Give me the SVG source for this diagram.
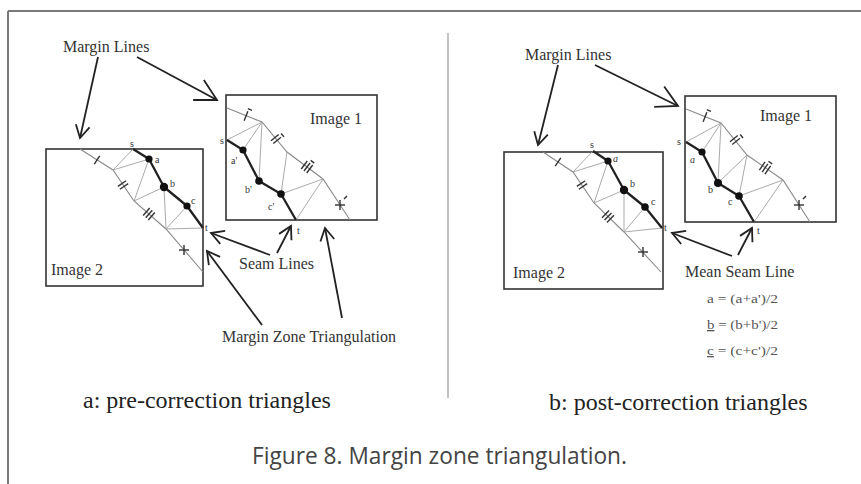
<svg xmlns="http://www.w3.org/2000/svg" width="861" height="484" viewBox="0 0 861 484">
<style>
  .frame{stroke:#7a7a7a;stroke-width:2;fill:none}
  .box{fill:none;stroke:#333;stroke-width:1.6}
  .margin{fill:none;stroke:#8a8a8a;stroke-width:1.1}
  .tri{fill:none;stroke:#a0a0a0;stroke-width:0.9}
  .seam{fill:none;stroke:#222;stroke-width:2.3;stroke-linejoin:round}
  .dot{fill:#111}
  .mk{stroke:#333;stroke-width:1.4;fill:none}
  .arr{stroke:#222;stroke-width:1.8;fill:none}
  .lbl{font-family:"Liberation Serif","Times New Roman",serif;font-size:16px;fill:#333}
  .pt{font-family:"Liberation Serif","Times New Roman",serif;font-size:10px;fill:#333}
  .panel{font-family:"Liberation Serif","Times New Roman",serif;font-size:24px;fill:#222}
  .frm{font-family:"Liberation Serif","Times New Roman",serif;font-size:13px;fill:#555}
  .cap{font-family:"Open Sans","Liberation Sans",Arial,sans-serif;font-size:23px;fill:#444}
</style>
<defs>
  <marker id="ah" markerUnits="userSpaceOnUse" markerWidth="20" markerHeight="20" viewBox="-16 -10 20 20" refX="0" refY="0" orient="auto">
    <path d="M-12.5,-7 L0,0 L-12.5,7" fill="none" stroke="#222" stroke-width="1.8"/>
  </marker>
  <marker id="ahL" markerUnits="userSpaceOnUse" markerWidth="30" markerHeight="30" viewBox="-26 -15 30 30" refX="0" refY="0" orient="auto">
    <path d="M-21,-11.3 L0,0 L-21,11.3" fill="none" stroke="#222" stroke-width="1.8"/>
  </marker>
  <g id="t1"><line class="mk" x1="0" y1="-5" x2="0" y2="5"/></g>
  <g id="t2"><line class="mk" x1="-1.8" y1="-5" x2="-1.8" y2="5"/><line class="mk" x1="1.8" y1="-5" x2="1.8" y2="5"/></g>
  <g id="t3"><line class="mk" x1="-3.4" y1="-5" x2="-3.4" y2="5"/><line class="mk" x1="0" y1="-5" x2="0" y2="5"/><line class="mk" x1="3.4" y1="-5" x2="3.4" y2="5"/></g>
  <g id="plus"><line class="mk" x1="-5" y1="0" x2="5" y2="0"/><line class="mk" x1="0" y1="-5" x2="0" y2="5"/></g>
  <g id="dash"><line class="mk" x1="-1" y1="-7.5" x2="3.5" y2="-7.5"/></g>
</defs>

<!-- outer frame (top and left edges only) -->
<line class="frame" x1="8" y1="11" x2="861" y2="11"/>
<line class="frame" x1="8" y1="11" x2="8" y2="484"/>
<!-- divider -->
<line x1="448" y1="33" x2="448" y2="398" stroke="#999" stroke-width="1.2"/>

<!-- ===== Panel a ===== -->
<g id="a-image2">
  <rect class="box" x="46" y="149" width="157" height="137"/>
  <polyline class="margin" points="80,149 113,170 134,201 166,229 203,272"/>
  <path class="tri" d="M133,149 L113,170 L149,159 L134,201 L164,187 L166,229 L187,206 M166,229 L203,228"/>
  <polyline class="seam" points="133,149 149,159 164,187 187,206 203,228"/>
  <circle class="dot" cx="149" cy="159" r="3.6"/>
  <circle class="dot" cx="164" cy="187" r="4.2"/>
  <circle class="dot" cx="187" cy="206" r="3.6"/>
  <use href="#t1" transform="translate(97,160) rotate(32.5)"/>
  <use href="#t2" transform="translate(123,185) rotate(55.9)"/>
  <use href="#t3" transform="translate(149,214) rotate(41.2)"/>
  <use href="#plus" transform="translate(184,250)"/>
  <text class="pt" x="130" y="147">s</text>
  <text class="pt" x="155" y="163">a</text>
  <text class="pt" x="170" y="187">b</text>
  <text class="pt" x="191" y="204">c</text>
  <text class="pt" x="205" y="231">t</text>
  <text class="lbl" x="51" y="275">Image 2</text>
</g>

<g id="a-image1">
  <rect class="box" x="226" y="95" width="151" height="125"/>
  <polyline class="margin" points="227,108 262,122 287,152 323,179 350,220"/>
  <path class="tri" d="M227,140 L262,122 L243,150 M262,122 L259,181 M287,152 L281,194 L323,179 L296,220"/>
  <polyline class="seam" points="227,140 243,150 259,181 281,194 296,220"/>
  <circle class="dot" cx="243" cy="150" r="3.6"/>
  <circle class="dot" cx="259" cy="181" r="3.8"/>
  <circle class="dot" cx="281" cy="194" r="3.8"/>
  <g transform="translate(246,116) rotate(21.8)"><use href="#t1"/><use href="#dash"/></g>
  <g transform="translate(276,139) rotate(50.2)"><use href="#t2"/><use href="#dash"/></g>
  <g transform="translate(307,167) rotate(36.9)"><use href="#t3"/><use href="#dash"/></g>
  <g transform="translate(340,205)"><use href="#plus"/><line class="mk" x1="4" y1="-6" x2="7" y2="-9"/></g>
  <text class="pt" x="220" y="144">s</text>
  <text class="pt" x="231" y="164">a'</text>
  <text class="pt" x="245" y="193">b'</text>
  <text class="pt" x="268" y="210">c'</text>
  <text class="pt" x="297" y="234">t</text>
  <text class="lbl" x="310" y="124">Image 1</text>
</g>

<g id="a-labels">
  <text class="lbl" x="63" y="52">Margin Lines</text>
  <text class="lbl" x="239" y="269">Seam Lines</text>
  <text class="lbl" x="222" y="342">Margin Zone Triangulation</text>
  <text class="panel" x="83" y="408">a: pre-correction triangles</text>
</g>

<!-- ===== Panel b ===== -->
<g id="b-image2">
  <rect class="box" x="504" y="152" width="159" height="137"/>
  <polyline class="margin" points="543,152 573,172 594,203 624,232 661,272"/>
  <path class="tri" d="M593,151 L573,172 L608,161 L594,203 L624,190 L624,232 L645,207 M624,232 L662,228"/>
  <polyline class="seam" points="593,151 608,161 624,190 645,207 662,228"/>
  <circle class="dot" cx="608" cy="161" r="3.6"/>
  <circle class="dot" cx="624" cy="190" r="4.2"/>
  <circle class="dot" cx="645" cy="207" r="3.8"/>
  <use href="#t1" transform="translate(558,162) rotate(33.7)"/>
  <use href="#t2" transform="translate(582,185) rotate(55.9)"/>
  <use href="#t3" transform="translate(608,216.5) rotate(44)"/>
  <use href="#plus" transform="translate(643,252)"/>
  <text class="pt" x="590" y="148">s</text>
  <text class="pt" x="613" y="162" font-style="italic">a</text>
  <text class="pt" x="630" y="187">b</text>
  <text class="pt" x="651" y="205">c</text>
  <text class="pt" x="664" y="231">t</text>
  <text class="lbl" x="513" y="278">Image 2</text>
</g>

<g id="b-image1">
  <rect class="box" x="685" y="96" width="151" height="126"/>
  <polyline class="margin" points="686,109 721,123 747,155 783,180 810,222"/>
  <path class="tri" d="M686,142 L721,123 L702,152 M721,123 L718,183 L747,155 L739,196 L783,180 L754,222"/>
  <polyline class="seam" points="686,142 702,152 718,183 739,196 754,222"/>
  <circle class="dot" cx="702" cy="152" r="3.6"/>
  <circle class="dot" cx="718" cy="183" r="4"/>
  <circle class="dot" cx="739" cy="196" r="3.8"/>
  <g transform="translate(705,117) rotate(21.8)"><use href="#t1"/><use href="#dash"/></g>
  <g transform="translate(735,140) rotate(50.9)"><use href="#t2"/><use href="#dash"/></g>
  <g transform="translate(765,168) rotate(34.8)"><use href="#t3"/><use href="#dash"/></g>
  <g transform="translate(799,205)"><use href="#plus"/><line class="mk" x1="4" y1="-6" x2="7" y2="-9"/></g>
  <text class="pt" x="677" y="145">s</text>
  <text class="pt" x="690" y="163" font-style="italic">a</text>
  <text class="pt" x="708" y="193">b</text>
  <text class="pt" x="728" y="205">c</text>
  <text class="pt" x="757" y="234">t</text>
  <text class="lbl" x="760" y="121">Image 1</text>
</g>

<g id="b-labels">
  <text class="lbl" x="525" y="60">Margin Lines</text>
  <text class="lbl" x="685" y="277">Mean Seam Line</text>
  <text class="frm" x="707" y="303" textLength="71" lengthAdjust="spacingAndGlyphs">a = (a+a')/2</text>
  <text class="frm" x="707" y="329" textLength="71" lengthAdjust="spacingAndGlyphs"><tspan text-decoration="underline">b</tspan> = (b+b')/2</text>
  <text class="frm" x="707" y="355" textLength="71" lengthAdjust="spacingAndGlyphs"><tspan text-decoration="underline">c</tspan> = (c+c')/2</text>
  <text class="panel" x="549" y="410">b: post-correction triangles</text>
</g>

<!-- connectors -->
<g id="connectors">
  <line class="arr" x1="98" y1="57" x2="80" y2="138" marker-end="url(#ah)"/>
  <line class="arr" x1="137" y1="57" x2="217" y2="100" marker-end="url(#ahL)"/>
  <line class="arr" x1="270" y1="255" x2="211" y2="233" marker-end="url(#ah)"/>
  <line class="arr" x1="277" y1="253" x2="291" y2="226" marker-end="url(#ah)"/>
  <line class="arr" x1="262" y1="325" x2="207" y2="251" marker-end="url(#ah)"/>
  <line class="arr" x1="342" y1="318" x2="325" y2="228" marker-end="url(#ah)"/>
  <line class="arr" x1="558" y1="65" x2="538" y2="145" marker-end="url(#ah)"/>
  <line class="arr" x1="595" y1="65" x2="678" y2="106" marker-end="url(#ahL)"/>
  <line class="arr" x1="732" y1="256" x2="672" y2="233" marker-end="url(#ah)"/>
  <line class="arr" x1="738" y1="255" x2="752" y2="228" marker-end="url(#ah)"/>
</g>

<text class="cap" x="252" y="464" textLength="375" lengthAdjust="spacingAndGlyphs">Figure 8. Margin zone triangulation.</text>
</svg>
